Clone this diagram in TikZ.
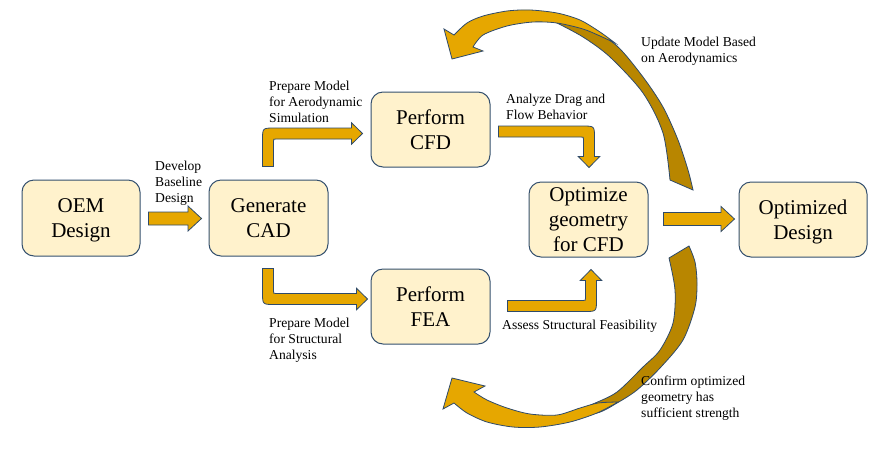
\documentclass[tikz,border=0pt]{standalone}
\usepackage{fontspec}
\setmainfont{Liberation Serif}
\usetikzlibrary{calc}
\definecolor{boxfill}{HTML}{FFF2CC}
\definecolor{boxline}{HTML}{34506E}
\definecolor{gold}{HTML}{E6A700}
\definecolor{darkgold}{HTML}{B88600}
\definecolor{arrline}{HTML}{2E4A6A}
\tikzset{
  procbox/.style={draw=boxline, line width=1pt, fill=boxfill, rounded corners=12pt,
    minimum width=119pt, minimum height=75pt, align=center, inner sep=0pt,
    font=\fontsize{21}{25}\selectfont},
  blockarrow/.style={draw=arrline, line width=0.8pt, fill=gold, line join=miter},
  darkpart/.style={draw=arrline, line width=0.8pt, fill=darkgold},
  lbl/.style={font=\fontsize{13.6}{16.3}\selectfont, inner sep=0pt, anchor=base west},
}
% box text: centred lines, lowered slightly without changing the box size
\newcommand{\boxtext}[1]{\raisebox{-2pt}[\height][\depth]{\begin{tabular}{@{}c@{}}#1\end{tabular}}}
% block arrow dimensions
\def\aw{5.5pt}\def\ah{10.75pt}\def\aL{11pt}\def\aR{12pt}\def\ar{2.5pt}
\def\sw{6.5pt}\def\sh{12.5pt}\def\sL{13.5pt}
% straight arrow: #1 start, #2 tip
\newcommand{\straightarr}[2]{%
  \draw[blockarrow] let \p1=(#1), \p2=(#2) in
    ({\x1},{\y1+\sw}) -- ({\x2-\sL},{\y1+\sw}) -- ({\x2-\sL},{\y1+\sh}) -- ({\x2},{\y1})
    -- ({\x2-\sL},{\y1-\sh}) -- ({\x2-\sL},{\y1-\sw}) -- ({\x1},{\y1-\sw}) -- cycle;}
% vertical then horizontal (to the right); #3 = +1 tip above start, -1 below
\newcommand{\bentvh}[3]{%
  \draw[blockarrow] let \p1=(#1), \p2=(#2) in
    ({\x1-\aw},{\y1}) -- ({\x1-\aw},{\y2+(#3)*(\aw-\aR)})
    .. controls ({\x1-\aw},{\y2+(#3)*\aw}) .. ({\x1-\aw+\aR},{\y2+(#3)*\aw})
    -- ({\x2-\aL},{\y2+(#3)*\aw}) -- ({\x2-\aL},{\y2+(#3)*\ah}) -- ({\x2},{\y2})
    -- ({\x2-\aL},{\y2-(#3)*\ah}) -- ({\x2-\aL},{\y2-(#3)*\aw})
    -- ({\x1+\aw+\ar},{\y2-(#3)*\aw})
    .. controls ({\x1+\aw},{\y2-(#3)*\aw}) .. ({\x1+\aw},{\y2-(#3)*(\aw+\ar)})
    -- ({\x1+\aw},{\y1}) -- cycle;}
% horizontal (to the right) then vertical; #3 = +1 tip above start, -1 below
\newcommand{\benthv}[3]{%
  \draw[blockarrow] let \p1=(#1), \p2=(#2) in
    ({\x1},{\y1-(#3)*\aw}) -- ({\x2+\aw-\aR},{\y1-(#3)*\aw})
    .. controls ({\x2+\aw},{\y1-(#3)*\aw}) .. ({\x2+\aw},{\y1-(#3)*\aw+(#3)*\aR})
    -- ({\x2+\aw},{\y2-(#3)*\aL}) -- ({\x2+\ah},{\y2-(#3)*\aL}) -- ({\x2},{\y2})
    -- ({\x2-\ah},{\y2-(#3)*\aL}) -- ({\x2-\aw},{\y2-(#3)*\aL})
    -- ({\x2-\aw},{\y1+(#3)*\aw+(#3)*\ar})
    .. controls ({\x2-\aw},{\y1+(#3)*\aw}) .. ({\x2-\aw-\ar},{\y1+(#3)*\aw})
    -- ({\x1},{\y1+(#3)*\aw}) -- cycle;}
\begin{document}
\begin{tikzpicture}[x=1pt,y=-1pt]
\useasboundingbox (0,0) rectangle (869,456);
% process boxes
\node[procbox, minimum width=118pt, minimum height=76pt] (oem) at (81,218) {\boxtext{OEM\\Design}};
\node[procbox, minimum height=76pt] (cad) at (268.5,218) {\boxtext{Generate\\CAD}};
\node[procbox] (cfd) at (430.5,129.5) {\boxtext{Perform\\CFD}};
\node[procbox] (fea) at (430.5,306.5) {\boxtext{Perform\\FEA}};
\node[procbox] (opt) at (588.5,219.5) {\boxtext{Optimize\\geometry\\for CFD}};
\node[procbox, minimum width=128pt] (optd) at (803,219.5) {\boxtext{Optimized\\Design}};
% connectors
\straightarr{$(oem.east)+(8,0.5)$}{$(cad.west)+(-7,0.5)$}
\straightarr{$(opt.east)+(15,-0.5)$}{$(optd.west)+(-4,0)$}
\bentvh{$(cad.north)+(-0.5,-13)$}{$(cfd.west)+(-8,4)$}{1}
\bentvh{$(cad.south)+(-0.5,12)$}{$(fea.west)+(-3,-7.5)$}{-1}
\benthv{$(cfd.east)+(8,2)$}{$(opt.north)+(0.5,-14)$}{-1}
\benthv{$(fea.east)+(17,-0.5)$}{$(opt.south)+(2.5,12)$}{1}
% upper feedback arrow (Optimize -> Perform CFD)
\draw[darkpart] plot[smooth] coordinates {(557,23) (587,27) (617,46) (643,77) (663,107) (678,140) (688,170) (693,190)}
  -- (670,180)
  -- plot[smooth] coordinates {(670,180) (663,133) (643,93) (610,57) (583,37) (557,23)} -- cycle;
\draw[blockarrow] (444,29) -- (454,35)
  -- plot[smooth] coordinates {(454,35) (467,23) (483,16) (507,11) (530,10) (557,13) (580,20) (600,32) (615,43)}
  -- plot[smooth] coordinates {(615,43) (600,36) (583,29) (557,23) (533,22) (507,26) (483,35) (473,47)}
  -- (483,51) -- (452,59) -- cycle;
% lower feedback arrow (Optimize -> Perform FEA)
\draw[darkpart] plot[smooth] coordinates {(565,416) (597,413) (617,403) (637,390) (660,368) (683,340) (695,307) (697,283) (695,262) (689,246)}
  -- (669,258)
  -- plot[smooth] coordinates {(669,258) (675,290) (673,323) (660,350) (643,367) (617,392) (593,404) (565,416)} -- cycle;
\draw[blockarrow] (443,409) -- (454,403)
  -- plot[smooth] coordinates {(454,403) (467,413) (487,422) (513,427) (540,427) (570,422) (597,413) (618,402)}
  -- plot[smooth] coordinates {(618,402) (598,403) (580,408) (557,415) (530,414) (507,408) (487,400) (474,392)}
  -- (485,386) -- (452,378) -- cycle;
% labels
\node[lbl] (l1) at (155,170) {\begin{tabular}[t]{@{}l@{}}Develop\\Baseline\\Design\end{tabular}};
\node[lbl] (l2) at (269,90) {\begin{tabular}[t]{@{}l@{}}Prepare Model\\for Aerodynamic\\Simulation\end{tabular}};
\node[lbl] (l3) at (506,103) {\begin{tabular}[t]{@{}l@{}}Analyze Drag and\\Flow Behavior\end{tabular}};
\node[lbl] (l4) at (269,327) {\begin{tabular}[t]{@{}l@{}}Prepare Model\\for Structural\\Analysis\end{tabular}};
\node[lbl] (l5) at (502,329) {Assess Structural Feasibility};
\node[lbl] (l6) at (641,46) {\begin{tabular}[t]{@{}l@{}}Update Model Based\\on Aerodynamics\end{tabular}};
\node[lbl] (l7) at (641,385) {\begin{tabular}[t]{@{}l@{}}Confirm optimized\\geometry has\\sufficient strength\end{tabular}};
\end{tikzpicture}
\end{document}
